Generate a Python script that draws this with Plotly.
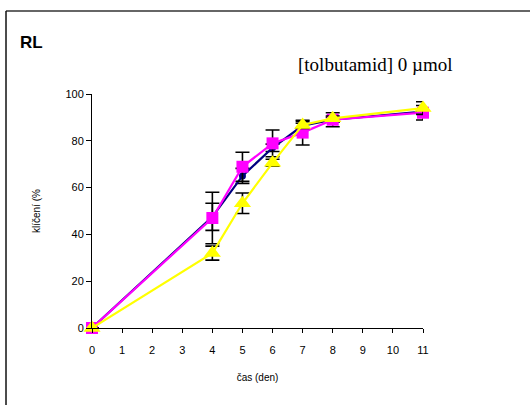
import plotly.graph_objects as go

days = [0, 4, 5, 6, 7, 8, 11]
blue_vals = [0, 47.5, 65, 77, 86.5, 89, 92.5]
blue_err = [0, 5.8, 3.2, 1.6, 1, 1, 1]
magenta_vals = [0, 47, 68.9, 78.9, 83.5, 89, 92]
magenta_err = [0, 11, 6.2, 5.7, 5.3, 3, 3.1]
yellow_vals = [0, 32, 53.3, 70.6, 86.8, 89.6, 94]
yellow_err = [0, 3, 4.4, 1.5, 1.5, 1, 2.7]

x_ticks = list(range(0, 12))
y_ticks = [0, 20, 40, 60, 80, 100]

fig = go.Figure()

def add(vals, err, color, symbol, size):
    fig.add_trace(go.Scatter(
        x=days, y=vals, mode="lines+markers",
        line=dict(color=color, width=2.2),
        marker=dict(color=color, symbol=symbol, size=size, line=dict(width=0)),
        error_y=dict(type="data", array=err, visible=True, color="black",
                     thickness=1.6, width=7),
        cliponaxis=False, showlegend=False))

add(blue_vals, blue_err, "#000080", "circle", 7)
add(magenta_vals, magenta_err, "#FF00FF", "square", 12)
add(yellow_vals, yellow_err, "#FFFF00", "triangle-up", 15)

fig.update_layout(
    width=530, height=405,
    margin=dict(l=92, r=107, t=94, b=77),
    paper_bgcolor="white", plot_bgcolor="white",
    font=dict(family="Liberation Sans, Arial", color="black", size=11),
    xaxis=dict(range=[0, 11], tickvals=x_ticks, showline=True, linecolor="black",
               linewidth=1, ticks="outside", ticklen=4, tickcolor="black",
               showgrid=False, zeroline=False, tickfont=dict(size=11),
               ticklabelstandoff=8,
               title=dict(text="čas (den)", font=dict(size=10), standoff=18)),
    yaxis=dict(range=[0, 100], tickvals=y_ticks, showline=True, linecolor="black",
               linewidth=1, ticks="outside", ticklen=5, tickcolor="black",
               showgrid=False, zeroline=False, tickfont=dict(size=11),
               title=dict(text="klíčení (%", font=dict(size=10), standoff=22)),
    shapes=[
        dict(type="line", xref="paper", yref="paper", x0=-0.26, x1=1.35,
             y0=1.3547, y1=1.3547, line=dict(color="#333333", width=1.5)),
        dict(type="line", xref="paper", yref="paper", x0=-0.2598, x1=-0.2598,
             y0=1.3547, y1=-0.35, line=dict(color="#111111", width=1.5)),
    ],
    annotations=[
        dict(text="<b>RL</b>", xref="paper", yref="paper", x=-0.224, y=1.218,
             xanchor="left", yanchor="middle", showarrow=False,
             font=dict(family="Liberation Sans, Arial", size=17, color="black")),
        dict(text="[tolbutamid] 0 µmol", xref="paper", yref="paper", x=0.615,
             y=1.125, xanchor="left", yanchor="middle", showarrow=False,
             font=dict(family="Liberation Serif, Times New Roman", size=19, color="black")),
    ],
)

fig.write_html("out.html", config={"displayModeBar": False},
               post_script="document.body.style.margin='0';document.body.style.overflow='hidden';document.documentElement.style.overflow='hidden';")
